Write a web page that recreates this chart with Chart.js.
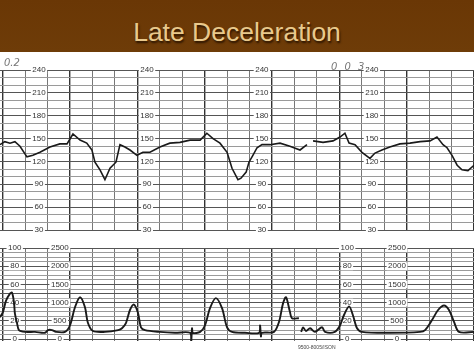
<!DOCTYPE html>
<html>
<head>
<meta charset="utf-8">
<script src="https://cdn.jsdelivr.net/npm/chart.js@4.4.1/dist/chart.umd.min.js"></script>
<style>
  html,body{margin:0;padding:0;background:#fff;width:474px;height:355px;overflow:hidden;font-family:"Liberation Sans",Arial,sans-serif;}
  #head{position:absolute;left:0;top:0;width:474px;height:52px;background:linear-gradient(#6a3705,#6e3c08);}
  #head h1{margin:0;font-weight:normal;font-size:26.5px;line-height:52px;text-align:center;color:#e9c98c;text-shadow:1px 2px 2px #2a1400;padding-top:6px;}
  .box{position:absolute;left:0;width:474px;}
  .hand{position:absolute;font-style:italic;color:#777;font-size:10px;font-family:"DejaVu Sans",sans-serif;}
  #code{position:absolute;left:298px;top:344px;font-size:5px;color:#444;letter-spacing:0;}
</style>
</head>
<body>
<div id="head"><h1>Late Deceleration</h1></div>
<div class="box" style="top:60px;height:180px"><canvas id="fhrChart"></canvas></div>
<div class="box" style="top:240px;height:110px"><canvas id="tocoChart"></canvas></div>
<div class="hand" style="left:4px;top:57px">0.2</div>
<div class="hand" style="left:331px;top:61px;letter-spacing:2px">0 0 3</div>
<div id="code">9500-8005/ISON</div>
<script>
// time axis in seconds, 7 minutes of paper
const T_MIN = -2.3, T_MAX = 420;

// fetal heart rate trace (seconds, bpm)
const fhrTime = [-2.3,2,6.6,11,15.5,21.7,27,33.3,42.2,51,57.4,62.7,69,75,79.6,82.3,86.8,91.2,95.7,101,104.6,109,113.5,119.7,125,131.3,140.2,149,158,167,176,182,187.5,193.7,200,204.4,209.7,212.4,217,219.5,223,226.7,231.1,238.2,247.2,256,265,271.2,274,276.6,285.5,294.4,300.6,305,308.7,314,320.2,327.3,331.8,338,345,354,363,372,380.8,387,392.4,396,400.4,405,409.3,414.6,420];
const fhrBpm  = [142,146,144,146,140,126,128,132,139,143,143,156,148,144,135,119,109,96,111,119,142,139,135,128,132,132,139,144,145,148,148,157,150,144,132,111,96,98,106,119,128,138,142,142,144,140,135,142,null,147,145,147,152,157,144,142,132,124,131,135,139,143,144,146,147,152,142,138,128,115,109,108,115];

// uterine activity trace (seconds, mmHg)
const tocoTime = [-2.3,0.4,3,6.6,8.4,10.2,11,12.8,14.6,20,28.9,37.8,40.5,44,47.6,55.6,60,64.5,69,73.4,76,80.5,91.2,103,106.4,110,113.5,117,120.6,123.3,126.9,140,153.6,167,168,168.8,169.6,176,180.3,184.8,190,195.5,200,204.4,216,228.5,229.4,230.2,231,241.8,246.3,249.8,252.5,256,257.8,264,265,266,267.7,270.3,274,278.3,284.6,287.3,296,300.6,304,308.7,312.2,315.8,320.2,345.3,372,376.4,382.6,388,393.3,397.7,402.2,406.6,420];
const tocoVal  = [24,30,42,50,51,40,28,18,10,8,8,7,10,10,8,8,15,35,46,35,18,9,8,10,12,18,32,38,29,13,10,8,7,7,-3,12,7,8,15,34,45,34,13,8,7,7,15,3,7,8,19,39,46,30,23,23,null,8,13,9,12,8,13,8,8,15,26,36,26,12,8,7,8,10,21,32,37,32,19,8,8];

// printed scale labels on the paper
const fhrLabels = [240,210,180,150,120,90,60,30];
const fhrLabelTimes = [32.4,128.7,231,329];
const mmhgLabels = [100,80,60,40,20,0];
const kpaLabels = [2500,2000,1500,1000,500,0];
const mmhgLabelTimes = [10.8,307];
const kpaLabelTimes = [51,351.4];

function range(a,b,s){ const r=[]; for(let v=a; v<=b+1e-9; v+=s) r.push(+v.toFixed(3)); return r; }
const timeGrid = range(0,420,20);

function paperLabels(cols){
  return {
    id:'paperLabels',
    beforeDatasetsDraw(chart){
      const {ctx, scales:{x,y}} = chart;
      ctx.save();
      ctx.font = '8px "Liberation Sans", Arial, sans-serif';
      ctx.textAlign = 'center'; ctx.textBaseline = 'middle';
      cols.forEach(c => c.texts.forEach((t,i)=>{
        const px = x.getPixelForValue(c.time), py = y.getPixelForValue(c.values[i]);
        const w = ctx.measureText(String(t)).width + 3;
        ctx.fillStyle = '#fff'; ctx.fillRect(px-w/2, py-4, w, 8);
        ctx.fillStyle = '#333'; ctx.fillText(String(t), px, py);
      }));
      ctx.restore();
    }
  };
}

function gridScales(yMin, yMax, yGrid, darkY){
  return {
    x:{ type:'linear', min:T_MIN, max:T_MAX, display:true,
        afterBuildTicks:s=>{ s.ticks = timeGrid.map(v=>({value:v})); },
        ticks:{display:false}, border:{display:false},
        grid:{ drawTicks:false, color:c=> c.tick.value%60===0 ? '#333' : '#777', lineWidth:c=> c.tick.value%60===0 ? 1.4 : 1 } },
    y:{ type:'linear', min:yMin, max:yMax, display:true,
        afterBuildTicks:s=>{ s.ticks = yGrid.map(v=>({value:v})); },
        ticks:{display:false}, border:{display:false},
        grid:{ drawTicks:false, color:c=> darkY(c.tick.value) ? '#555' : '#9a9a9a', lineWidth:1 } }
  };
}

function buildFhrChart(){
  const pts = fhrTime.map((t,i)=>({x:t, y:fhrBpm[i]}));
  const cols = fhrLabelTimes.map(t=>({time:t, texts:fhrLabels, values:fhrLabels}));
  new Chart(document.getElementById('fhrChart'), {
    type:'line',
    data:{ datasets:[{ data:pts, borderColor:'#1a1a1a', borderWidth:1.6, pointRadius:0, tension:0, spanGaps:false }] },
    options:{ responsive:true, maintainAspectRatio:false, animation:false,
      layout:{ padding:{ top:10, bottom:10, left:0, right:0 } },
      plugins:{ legend:{display:false}, tooltip:{enabled:false} },
      scales: gridScales(30, 240, range(30,240,10), v=> v%30===0) },
    plugins:[paperLabels(cols)]
  });
}

function buildTocoChart(){
  const pts = tocoTime.map((t,i)=>({x:t, y:tocoVal[i]}));
  const cols = mmhgLabelTimes.map(t=>({time:t, texts:mmhgLabels, values:mmhgLabels}))
    .concat(kpaLabelTimes.map(t=>({time:t, texts:kpaLabels, values:mmhgLabels})));
  new Chart(document.getElementById('tocoChart'), {
    type:'line',
    data:{ datasets:[{ data:pts, borderColor:'#1a1a1a', borderWidth:1.9, pointRadius:0, tension:0.3, spanGaps:false }] },
    options:{ responsive:true, maintainAspectRatio:false, animation:false,
      layout:{ padding:{ top:8, bottom:9, left:0, right:0 } },
      plugins:{ legend:{display:false}, tooltip:{enabled:false} },
      scales: gridScales(-2, 100, range(0,100,5), v=> v%20===0 || v===50) },
    plugins:[paperLabels(cols)]
  });
}

document.addEventListener('DOMContentLoaded', ()=>{ buildFhrChart(); buildTocoChart(); });
</script>
</body>
</html>
